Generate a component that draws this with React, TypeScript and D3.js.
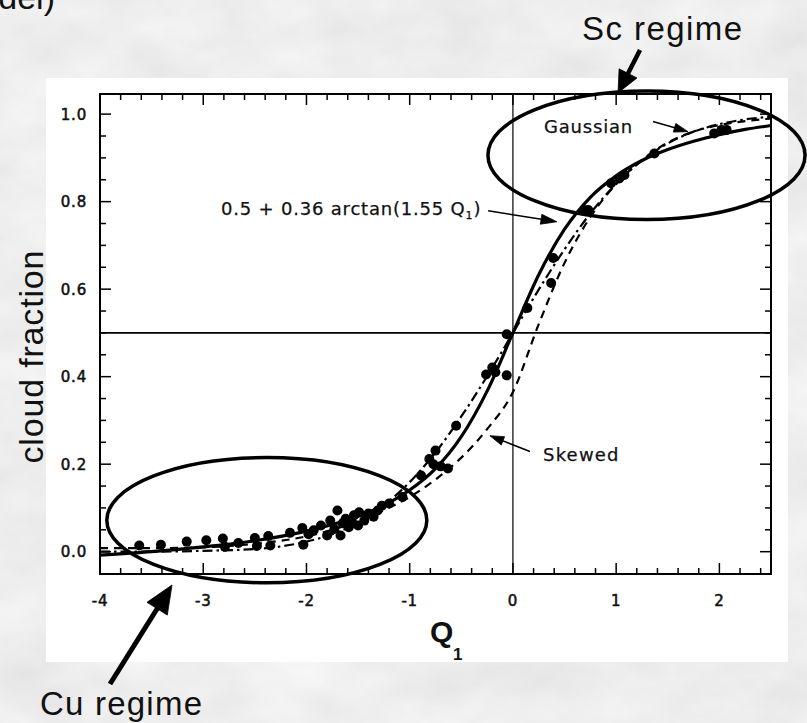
import React from "react";
import * as d3 from "d3";

// ---- data ----
const curveQ = [-4, -3.5, -3, -2.5, -2, -1.75, -1.5, -1.25, -1, -0.75, -0.5, -0.25, 0, 0.25, 0.5, 0.75, 1, 1.25, 1.5, 1.75, 2, 2.25, 2.5];
const fitValues = [-0.008, 0.0, 0.011, 0.025, 0.047, 0.062, 0.081, 0.106, 0.141, 0.19, 0.263, 0.367, 0.5, 0.633, 0.737, 0.81, 0.859, 0.894, 0.919, 0.938, 0.953, 0.965, 0.974];
const gaussValues = [0.0, 0.0, 0.002, 0.006, 0.023, 0.04, 0.067, 0.106, 0.159, 0.227, 0.309, 0.401, 0.5, 0.599, 0.691, 0.773, 0.841, 0.894, 0.933, 0.96, 0.977, 0.988, 0.994];
const skewValues = [0.008, 0.008, 0.01, 0.018, 0.035, 0.05, 0.07, 0.095, 0.125, 0.165, 0.215, 0.28, 0.365, 0.52, 0.66, 0.765, 0.84, 0.895, 0.935, 0.96, 0.975, 0.984, 0.99];

const obsQ = [-3.62, -3.41, -3.16, -2.97, -2.81, -2.79, -2.66, -2.5, -2.48, -2.37, -2.35, -2.16, -2.04, -2.03, -1.98, -1.93, -1.86, -1.8, -1.77, -1.73, -1.7, -1.67, -1.65, -1.62, -1.59, -1.56, -1.54, -1.5, -1.49, -1.44, -1.4, -1.35, -1.31, -1.27, -1.2, -1.07, -0.89, -0.81, -0.77, -0.75, -0.7, -0.63, -0.55, -0.26, -0.2, -0.17, -0.06, -0.06, 0.14, 0.37, 0.39, 0.69, 0.73, 0.95, 1.03, 1.08, 1.37, 1.95, 2.02, 2.07];
const obsV = [0.014, 0.016, 0.023, 0.026, 0.03, 0.011, 0.02, 0.031, 0.013, 0.036, 0.014, 0.043, 0.054, 0.016, 0.04, 0.049, 0.06, 0.037, 0.071, 0.052, 0.094, 0.037, 0.065, 0.075, 0.056, 0.068, 0.083, 0.06, 0.09, 0.071, 0.087, 0.08, 0.094, 0.105, 0.11, 0.125, 0.174, 0.212, 0.2, 0.231, 0.195, 0.19, 0.288, 0.405, 0.421, 0.41, 0.403, 0.497, 0.557, 0.614, 0.671, 0.781, 0.781, 0.842, 0.853, 0.861, 0.91, 0.956, 0.964, 0.964];

const xMajorTicks = [-4, -3, -2, -1, 0, 1, 2];
const xTickLabels = ["-4", "-3", "-2", "-1", "0", "1", "2"];
const yMajorTicks = [0, 0.2, 0.4, 0.6, 0.8, 1.0];
const yTickLabels = ["0.0", "0.2", "0.4", "0.6", "0.8", "1.0"];

const W = 807;
const H = 723;

const x = d3.scaleLinear().domain([-4, 2.5]).range([100, 771]);
const y = d3.scaleLinear().domain([-0.051, 1.046]).range([574, 94]);

function arrowParts(x1: number, y1: number, x2: number, y2: number, L: number, hw: number) {
  const dx = x2 - x1, dy = y2 - y1;
  const len = Math.hypot(dx, dy);
  const ux = dx / len, uy = dy / len;
  const bx = x2 - ux * L, by = y2 - uy * L;
  const nx = -uy, ny = ux;
  return {
    line: `M${x1},${y1}L${bx + ux * 2},${by + uy * 2}`,
    head: `M${x2},${y2}L${bx + nx * hw},${by + ny * hw}L${bx - nx * hw},${by - ny * hw}Z`,
  };
}

function Arrow({ x1, y1, x2, y2, L, hw, sw }: any) {
  const p = arrowParts(x1, y1, x2, y2, L, hw);
  return (
    <g>
      <path d={p.line} stroke="#000" strokeWidth={sw} fill="none" />
      <path d={p.head} fill="#000" stroke="#000" strokeWidth={0.8} strokeLinejoin="round" />
    </g>
  );
}

export default function App() {
  const pts = (vals: number[]) => curveQ.map((q, i) => [q, vals[i]] as [number, number]);
  const line = d3
    .line<[number, number]>()
    .x((d) => x(d[0]))
    .y((d) => y(d[1]))
    .curve(d3.curveMonotoneX);

  const xMinor = d3.range(-4, 2.5001, 0.2).map((v) => +v.toFixed(2));
  const yMinor = d3.range(0, 1.0001, 0.05).map((v) => +v.toFixed(2));
  const isMajorX = (v: number) => Math.abs(v - Math.round(v)) < 1e-6;
  const isMajorY = (v: number) => Math.abs(v * 5 - Math.round(v * 5)) < 1e-6;

  const [x0, x1] = x.range();
  const [yb, yt] = y.range();

  const tickFont = "'DejaVu Sans', Verdana, sans-serif";
  const labelFont = "'Liberation Sans', Arial, Helvetica, sans-serif";

  // ellipse annotations in data units
  const scC = { q: 1.294, v: 0.906, rq: 1.536, rv: 0.147 };
  const cuC = { q: -2.384, v: 0.072, rq: 1.55, rv: 0.143 };

  return (
    <svg width={W} height={H} style={{ position: "absolute", left: 0, top: 0, display: "block" }}>
      <defs>
        <filter id="marble" x="0" y="0" width="100%" height="100%">
          <feTurbulence type="fractalNoise" baseFrequency="0.012 0.02" numOctaves={4} seed={7} />
          <feColorMatrix
            type="matrix"
            values="0.18 0 0 0 0.76  0.18 0 0 0 0.76  0.18 0 0 0 0.76  0 0 0 0 1"
          />
        </filter>
      </defs>
      <rect x={0} y={0} width={W} height={H} fill="#d9d9d9" />
      <rect x={0} y={0} width={W} height={H} filter="url(#marble)" />

      {/* white scanned panel */}
      <rect x={46} y={78} width={742} height={584} fill="#ffffff" />

      {/* partial caption at top-left */}
      <text x={55} y={9} textAnchor="end" fontFamily={labelFont} fontSize={34} fill="#111">
        (model)
      </text>

      {/* reference lines */}
      <line x1={x(0)} x2={x(0)} y1={yb} y2={yt} stroke="#000" strokeWidth={1.2} />
      <line x1={x0} x2={x1} y1={y(0.5)} y2={y(0.5)} stroke="#000" strokeWidth={1.6} />

      {/* ticks */}
      {xMinor.map((v, i) => {
        const len = isMajorX(v) ? 11 : 6;
        return (
          <g key={"xt" + i}>
            <line x1={x(v)} x2={x(v)} y1={yb} y2={yb - len} stroke="#000" strokeWidth={1.5} />
            <line x1={x(v)} x2={x(v)} y1={yt} y2={yt + len} stroke="#000" strokeWidth={1.5} />
          </g>
        );
      })}
      {yMinor.map((v, i) => {
        const len = isMajorY(v) ? 11 : 6;
        return (
          <g key={"yt" + i}>
            <line x1={x0} x2={x0 + len} y1={y(v)} y2={y(v)} stroke="#000" strokeWidth={1.5} />
            <line x1={x1} x2={x1 - len} y1={y(v)} y2={y(v)} stroke="#000" strokeWidth={1.5} />
          </g>
        );
      })}

      {/* frame */}
      <rect x={x0} y={yt} width={x1 - x0} height={yb - yt} fill="none" stroke="#000" strokeWidth={2} />

      {/* tick labels */}
      {xMajorTicks.map((v, i) => (
        <text
          key={"xl" + i}
          x={x(v)}
          y={606}
          textAnchor="middle"
          fontFamily={tickFont}
          fontSize={15}
          letterSpacing={0.8}
          fill="#111"
          stroke="#111"
          strokeWidth={0.55}
        >
          {xTickLabels[i]}
        </text>
      ))}
      {yMajorTicks.map((v, i) => (
        <text
          key={"yl" + i}
          x={87}
          y={y(v) + 5.5}
          textAnchor="end"
          fontFamily={tickFont}
          fontSize={15}
          letterSpacing={0.8}
          fill="#111"
          stroke="#111"
          strokeWidth={0.55}
        >
          {yTickLabels[i]}
        </text>
      ))}

      {/* model curves */}
      <path d={line(pts(skewValues)) || ""} fill="none" stroke="#000" strokeWidth={2.2} strokeDasharray="8 6" />
      <path d={line(pts(gaussValues)) || ""} fill="none" stroke="#000" strokeWidth={2.2} strokeDasharray="10 4 2.5 4" />
      <path d={line(pts(fitValues)) || ""} fill="none" stroke="#000" strokeWidth={3.2} />

      {/* observations */}
      {obsQ.map((q, i) => (
        <circle key={"p" + i} cx={x(q)} cy={y(obsV[i])} r={5} fill="#000" />
      ))}

      {/* in-plot annotations */}
      <text x={221} y={215} fontFamily={tickFont} fontSize={18} letterSpacing={0.8} fill="#111" stroke="#111" strokeWidth={0.25}>
        0.5 + 0.36 arctan(1.55 Q
        <tspan fontSize={11} dy={4}>1</tspan>
        <tspan dy={-4}>)</tspan>
      </text>
      <Arrow x1={x(-0.24)} y1={y(0.779)} x2={x(0.426)} y2={y(0.754)} L={16} hw={5} sw={1.5} />

      <text x={544} y={133} fontFamily={tickFont} fontSize={18} letterSpacing={0.8} fill="#111" stroke="#111" strokeWidth={0.25}>
        Gaussian
      </text>
      <Arrow x1={x(1.357)} y1={y(0.983)} x2={x(1.696)} y2={y(0.96)} L={14} hw={4.5} sw={1.5} />

      <text x={543} y={461} fontFamily={tickFont} fontSize={18} letterSpacing={1.2} fill="#111" stroke="#111" strokeWidth={0.25}>
        Skewed
      </text>
      <Arrow x1={x(0.165)} y1={y(0.229)} x2={x(-0.223)} y2={y(0.265)} L={14} hw={4.5} sw={1.5} />

      {/* regime ellipses */}
      <ellipse
        cx={x(scC.q)}
        cy={y(scC.v)}
        rx={x(scC.q + scC.rq) - x(scC.q)}
        ry={y(scC.v) - y(scC.v + scC.rv)}
        fill="none"
        stroke="#000"
        strokeWidth={3.5}
      />
      <ellipse
        cx={x(cuC.q)}
        cy={y(cuC.v)}
        rx={x(cuC.q + cuC.rq) - x(cuC.q)}
        ry={y(cuC.v) - y(cuC.v + cuC.rv)}
        fill="none"
        stroke="#000"
        strokeWidth={3.5}
      />

      {/* axis labels */}
      <text x={430} y={642} fontFamily={labelFont} fontWeight="bold" fontSize={30} fill="#111">
        Q
      </text>
      <text x={453} y={660} fontFamily={labelFont} fontWeight="bold" fontSize={17} fill="#111">
        1
      </text>
      <text
        transform="translate(43,357) rotate(-90)"
        textAnchor="middle"
        fontFamily={labelFont}
        fontSize={34}
        textLength={213}
        lengthAdjust="spacing"
        fill="#111"
      >
        cloud fraction
      </text>

      {/* regime labels and arrows */}
      <text x={582} y={40} fontFamily={labelFont} fontSize={33} textLength={160} lengthAdjust="spacing" fill="#111">
        Sc regime
      </text>
      <Arrow x1={640} y1={50} x2={618} y2={93} L={22} hw={10} sw={4.5} />

      <text x={40} y={715} fontFamily={labelFont} fontSize={33} textLength={162} lengthAdjust="spacing" fill="#111">
        Cu regime
      </text>
      <Arrow x1={110} y1={684} x2={172} y2={585} L={28} hw={12} sw={5} />
    </svg>
  );
}
